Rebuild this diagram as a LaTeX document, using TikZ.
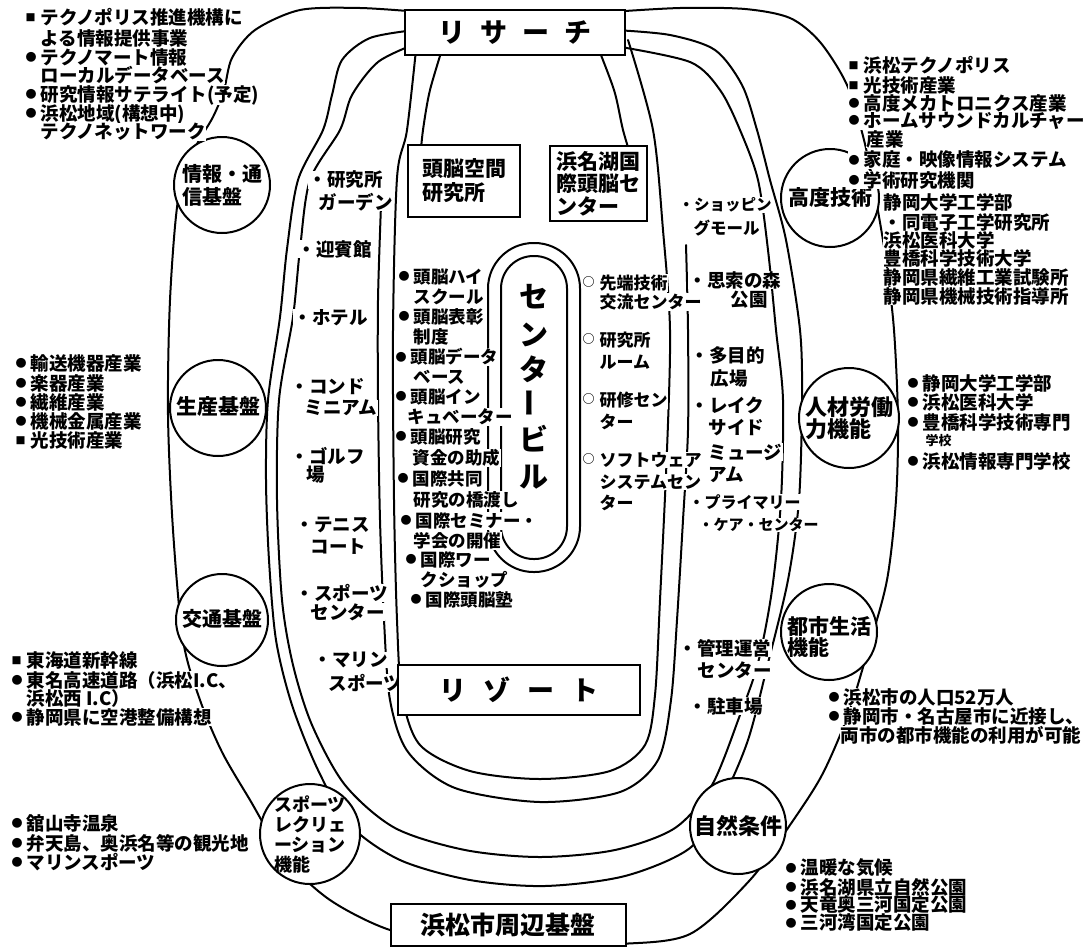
\documentclass[tikz,border=0pt]{standalone}
\usepackage{fontspec}
\setmainfont{Noto Sans CJK JP}
\newcommand{\fsz}[1]{\fontsize{#1}{#1}\selectfont\bfseries}
\newcommand{\fsl}[2]{\fontsize{#1}{#2}\selectfont\bfseries}
\newcommand{\Bc}{\makebox[15pt][l]{\raisebox{2.8pt}{\fontsize{11}{11}\selectfont ●}}}
\newcommand{\Bs}{\makebox[15pt][l]{\raisebox{3pt}{\fontsize{10}{10}\selectfont ■}}}
\newcommand{\Bo}{\makebox[17pt][l]{\raisebox{2.5pt}{\fontsize{12}{12}\selectfont ○}}}
\begin{document}
\begin{tikzpicture}[x=1pt,y=-1pt,
  ln/.style={line width=2pt,line join=round,line cap=round},
  tx/.style={inner sep=0.4pt,anchor=west,fill=white,font=\fsz{18.5}},
  tm/.style={tx,font=\fsz{17.5}},
  circ/.style={draw,circle,line width=2pt,fill=white,inner sep=0pt},
  box/.style={draw,rectangle,line width=2pt,fill=white,inner sep=0pt,align=left},
  ctx/.style={inner sep=0pt,align=left}]
\useasboundingbox (0,0) rectangle (1092,946);
\fill[white] (0,0) rectangle (1092,946);

% ---- band 1 (outermost horseshoe)
\draw[ln] plot[smooth,tension=0.5] coordinates {(420,12) (360,8) (300,10) (255,30) (232,58) (224,90) (213,117) (193,152) (178,200) (170,300) (168,415) (173,530) (183,640) (200,700) (222,752) (250,800) (285,858) (330,900) (390,930) (460,942) (540,945) (620,944) (690,934) (750,880) (790,825) (822,775) (848,715) (868,650) (887,580) (896,500) (898,420) (894,330) (886,260) (876,200) (864,140) (847,85) (820,42) (790,18) (745,9) (680,8) (610,12)};
\draw[ln] plot[smooth,tension=0.5] coordinates {(415,30) (370,38) (342,60) (332,95) (323,130) (298,180) (287,249) (280,317) (268,400) (266,480) (269,560) (276,640) (292,705) (318,770) (350,825) (400,860) (470,880) (545,886) (625,876) (690,848) (722,800) (748,740) (768,663) (788,580) (799,500) (802,400) (800,330) (786,240) (770,180) (757,130) (742,85) (715,50) (670,35) (615,30)};
% ---- band 2
\draw[ln] plot[smooth,tension=0.5] coordinates {(415,44) (378,62) (352,95) (340,130) (310,180) (300,249) (293,317) (279,400) (277,500) (282,600) (293,665) (312,725) (345,785) (395,828) (465,850) (540,857) (615,850) (675,828) (712,785) (740,715) (758,663) (772,590) (781,500) (783,400) (776,330) (768,250) (758,180) (740,130) (720,90) (690,62) (615,46)};
\draw[ln] plot[smooth,tension=0.5] coordinates {(381,205) (378,300) (378,400) (380,520) (384,620) (390,700) (408,752) (455,788) (540,802) (620,792) (658,760) (671,700) (677,620) (683,520) (688,430) (688,330) (686,245)};
% ---- inner oval
\draw[ln] plot[smooth,tension=0.5] coordinates {(417,40) (407,130) (397,178) (393,330) (394,500) (397,620) (402,695) (420,745) (470,771) (540,779) (610,771) (645,745) (655,695) (660,600) (667,450) (670,330) (663,230) (653,130) (628,40)};
\draw[ln] plot[smooth,tension=0.5] coordinates {(445,40) (430,90) (423,130) (420,160)};
\draw[ln] plot[smooth,tension=0.5] coordinates {(595,40) (614,90) (623,130) (632,160)};

% ---- centre building
\node[draw,line width=2pt,rounded corners=45.5pt,minimum width=92pt,minimum height=329pt,inner sep=0pt] (cbo) at (534,407.5) {};
\node[draw,line width=2pt,rounded corners=32.5pt,minimum width=66pt,minimum height=303pt,inner sep=0pt] (cbi) at (534,407.5) {};
\node[inner sep=0pt,font=\fsz{29}] (cb1) at (534,297) {セ};
\node[inner sep=0pt,font=\fsz{29}] (cb2) at (534,335) {ン};
\node[inner sep=0pt,font=\fsz{29}] (cb3) at (534,369) {タ};
\node[inner sep=0pt,font=\fsz{29},rotate=90] (cb4) at (534,403) {ー};
\node[inner sep=0pt,font=\fsz{29}] (cb5) at (534,439) {ビ};
\node[inner sep=0pt,font=\fsz{29}] (cb6) at (534,477) {ル};

% ---- circles
\node[circ,minimum size=96pt] (ci1) at (222,185) {};
\node[circ,minimum size=96pt] (ci2) at (218,408) {};
\node[circ,minimum size=92pt] (ci3) at (222,620) {};
\node[circ,minimum size=100pt] (ci4) at (310,834) {};
\node[circ,minimum size=98pt] (ci5) at (830,198) {};
\node[circ,minimum size=100pt] (ci6) at (849,418) {};
\node[circ,minimum size=96pt] (ci7) at (829,632) {};
\node[circ,minimum size=96pt] (ci8) at (738,826) {};
\node[ctx,font=\fsl{20}{23}] (ct1) at (ci1.center) {情報・通\\信基盤};
\node[ctx,font=\fsz{21}] (ct2) at (218,406) {生産基盤};
\node[ctx,font=\fsz{20}] (ct3) at (222,619) {交通基盤};
\node[ctx,font=\fsl{18}{20}] (ct4) at (ci4.center) {スポーツ\\レクリェ\\ーション\\機能};
\node[ctx,font=\fsz{21}] (ct5) at (ci5.center) {高度技術};
\node[ctx,font=\fsl{22}{22}] (ct6) at (ci6.center) {人材労働\\力機能};
\node[ctx,font=\fsl{21}{21}] (ct7) at (829,637) {都市生活\\機能};
\node[ctx,font=\fsz{22}] (ct8) at (ci8.center) {自然条件};

% ---- outer lists
\node[tx] (tl1) at (25,17) {\Bs テクノポリス推進機構に};
\node[tx] (tl2) at (40,38) {よる情報提供事業};
\node[tx] (tl3) at (25,57) {\Bc テクノマート情報};
\node[tx] (tl4) at (40,75) {ローカルデータベース};
\node[tx] (tl5) at (25,95) {\Bc 研究情報サテライト(予定)};
\node[tx] (tl6) at (25,114) {\Bc 浜松地域(構想中)};
\node[tx] (tl7) at (40,132) {テクノネットワーク};

\node[tx] (tr1) at (848,65) {\Bs 浜松テクノポリス};
\node[tx] (tr2) at (848,85) {\Bs 光技術産業};
\node[tx] (tr3) at (848,103) {\Bc 高度メカトロニクス産業};
\node[tx] (tr4) at (848,121) {\Bc ホームサウンドカルチャー};
\node[tx] (tr5) at (866,139) {産業};
\node[tx] (tr6) at (848,160) {\Bc 家庭・映像情報システム};
\node[tx] (tr7) at (848,180) {\Bc 学術研究機関};
\node[tx] (tr8) at (883,202) {静岡大学工学部};
\node[tx] (tr9) at (883,222) {・同電子工学研究所};
\node[tx] (tr10) at (883,240) {浜松医科大学};
\node[tx] (tr11) at (883,258) {豊橋科学技術大学};
\node[tx] (tr12) at (883,277) {静岡県繊維工業試験所};
\node[tx] (tr13) at (883,296) {静岡県機械技術指導所};

\node[tx] (lm1) at (15,363) {\Bc 輸送機器産業};
\node[tx] (lm2) at (15,383) {\Bc 楽器産業};
\node[tx] (lm3) at (15,402) {\Bc 繊維産業};
\node[tx] (lm4) at (15,421) {\Bc 機械金属産業};
\node[tx] (lm5) at (15,440) {\Bs 光技術産業};

\node[tx] (rm1) at (907,383) {\Bc 静岡大学工学部};
\node[tx] (rm2) at (907,402) {\Bc 浜松医科大学};
\node[tx] (rm3) at (907,422) {\Bc 豊橋科学技術専門};
\node[tx,font=\fsz{13}] (rm4) at (925,441) {学校};
\node[tx] (rm5) at (907,461) {\Bc 浜松情報専門学校};

\node[tx] (ll1) at (11,660) {\Bs 東海道新幹線};
\node[tx] (ll2) at (11,680) {\Bc 東名高速道路（浜松I.C、};
\node[tx] (ll3) at (26,698) {浜松西 I.C）};
\node[tx] (ll4) at (11,717) {\Bc 静岡県に空港整備構想};

\node[tx] (rl1) at (828,697) {\Bc 浜松市の人口52万人};
\node[tx] (rl2) at (828,716) {\Bc 静岡市・名古屋市に近接し、};
\node[tx] (rl3) at (840,735) {両市の都市機能の利用が可能};

\node[tx] (lb1) at (11,823) {\Bc 舘山寺温泉};
\node[tx] (lb2) at (11,843) {\Bc 弁天島、奥浜名等の観光地};
\node[tx] (lb3) at (11,862) {\Bc マリンスポーツ};

\node[tx] (rb1) at (785,868) {\Bc 温暖な気候};
\node[tx] (rb2) at (785,887) {\Bc 浜名湖県立自然公園};
\node[tx] (rb3) at (785,905) {\Bc 天竜奥三河国定公園};
\node[tx] (rb4) at (785,923) {\Bc 三河湾国定公園};

% ---- resort band, left
\node[tx] (g1) at (308,180) {・研究所};
\node[tx] (g2) at (318,202) {ガーデン};
\node[tx] (g3) at (297,249) {・迎賓館};
\node[tx] (g4) at (293,318) {・ホテル};
\node[tx] (g5) at (290,387) {・コンド};
\node[tx] (g6) at (304,408) {ミニアム};
\node[tx] (g7) at (290,456) {・ゴルフ};
\node[tx] (g8) at (306,475) {場};
\node[tx] (g9) at (295,525) {・テニス};
\node[tx] (g10) at (310,547) {コート};
\node[tx] (g11) at (295,593) {・スポーツ};
\node[tx] (g12) at (310,612) {センター};
\node[tx] (g13) at (313,660) {・マリン};
\node[tx] (g14) at (328,683) {スポーツ};

% ---- resort band, right
\node[tx,font=\fsz{15.5}] (h1) at (678,205) {・ショッピン};
\node[tx,font=\fsz{16.5}] (h2) at (693,228) {グモール};
\node[tx] (h3) at (688,280) {・思索の森};
\node[tx] (h4) at (730,300) {公園};
\node[tx] (h5) at (690,355) {・多目的};
\node[tx] (h6) at (710,378) {広場};
\node[tx] (h7) at (690,405) {・レイク};
\node[tx] (h8) at (708,428) {サイド};
\node[tx] (h9) at (708,452) {ミュージ};
\node[tx] (h10) at (708,475) {アム};
\node[tx,font=\fsz{16}] (h11) at (688,502) {・プライマリー};
\node[tx,font=\fsz{15}] (h12) at (698,525) {・ケア・センター};
\node[tx] (h13) at (678,648) {・管理運営};
\node[tx] (h14) at (697,670) {センター};
\node[tx] (h15) at (688,706) {・駐車場};

% ---- research area, left of centre
\node[tm] (m1) at (398,277) {\Bc 頭脳ハイ};
\node[tm] (m2) at (413,297) {スクール};
\node[tm] (m3) at (398,317) {\Bc 頭脳表彰};
\node[tm] (m4) at (413,337) {制度};
\node[tm] (m5) at (395,357) {\Bc 頭脳データ};
\node[tm] (m6) at (413,377) {ベース};
\node[tm] (m7) at (395,397) {\Bc 頭脳イン};
\node[tm] (m8) at (407,417) {キュベーター};
\node[tm] (m9) at (395,437) {\Bc 頭脳研究};
\node[tm] (m10) at (412,458) {資金の助成};
\node[tm] (m11) at (397,479) {\Bc 国際共同};
\node[tm] (m12) at (413,500) {研究の橋渡し};
\node[tm] (m13) at (400,521) {\Bc 国際セミナー・};
\node[tm] (m14) at (413,541) {学会の開催};
\node[tm] (m15) at (405,560) {\Bc 国際ワー};
\node[tm] (m16) at (420,580) {クショップ};
\node[tm] (m17) at (410,600) {\Bc 国際頭脳塾};

% ---- right of centre
\node[tx,font=\fsz{17}] (r1) at (582,283) {\Bo 先端技術};
\node[tx,font=\fsz{17}] (r2) at (599,302) {交流センター};
\node[tx,font=\fsz{17}] (r3) at (582,340) {\Bo 研究所};
\node[tx,font=\fsz{17}] (r4) at (599,362) {ルーム};
\node[tx,font=\fsz{17}] (r5) at (582,400) {\Bo 研修セン};
\node[tx,font=\fsz{17}] (r6) at (599,422) {ター};
\node[tx,font=\fsz{17}] (r7) at (582,460) {\Bo ソフトウェア};
\node[tx,font=\fsz{17}] (r8) at (599,482) {システムセン};
\node[tx,font=\fsz{17}] (r9) at (599,503) {ター};

% ---- boxes
\node[box,minimum width=220pt,minimum height=45pt,font=\fsz{27}] (res) at (515,32.5) {リ\hspace{15pt}サ\hspace{15pt}ー\hspace{15pt}チ};
\node[box,minimum width=242pt,minimum height=50pt,font=\fsz{27}] (rst) at (519,690) {リ\hspace{17pt}ゾ\hspace{17pt}ー\hspace{17pt}ト};
\node[box,minimum width=235pt,minimum height=42pt,font=\fsz{25}] (base) at (508,925) {浜松市周辺基盤};
\node[box,minimum width=112pt,minimum height=72pt,font=\fsl{21}{24}] (brain) at (464,181) {頭脳空間\\研究所};
\node[box,minimum width=97pt,minimum height=75pt,font=\fsl{21}{22.5}] (lake) at (598.5,183.5) {浜名湖国\\際頭脳セ\\ンター};
\end{tikzpicture}
\end{document}
